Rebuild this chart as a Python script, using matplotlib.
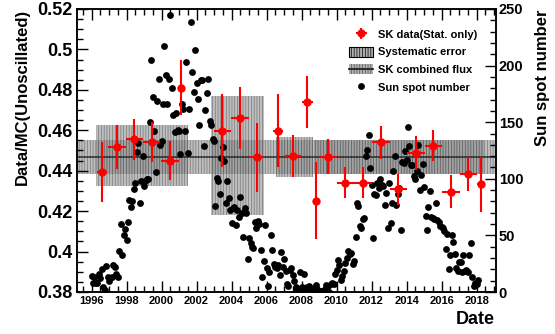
import numpy as np
import matplotlib
matplotlib.use("Agg")
import matplotlib.pyplot as plt
import matplotlib.patches as mpatches
from matplotlib.lines import Line2D
from matplotlib.ticker import MultipleLocator, FuncFormatter

plt.rcParams['font.family'] = 'Liberation Sans'
plt.rcParams['font.weight'] = 'bold'
plt.rcParams['hatch.linewidth'] = 0.5

# SK data / MC (stat. errors only)
sk_year = [1996.6, 1997.45, 1998.45, 1999.44, 2000.49, 2001.12, 2003.47, 2004.49, 2005.43,
           2006.66, 2007.5, 2008.32, 2008.83, 2009.5, 2010.51, 2011.5, 2012.53, 2013.53,
           2014.54, 2015.53, 2016.54, 2017.53, 2018.24]
sk_xerr = [0.3, 0.5, 0.5, 0.5, 0.5, 0.2, 0.5, 0.5, 0.37,
           0.3, 0.45, 0.32, 0.15, 0.5, 0.5, 0.5, 0.5, 0.5,
           0.5, 0.5, 0.5, 0.5, 0.2]
sk_val = [0.4395, 0.4517, 0.4555, 0.4543, 0.4449, 0.4811, 0.4598, 0.4661, 0.4466,
          0.4598, 0.4474, 0.4740, 0.4251, 0.4469, 0.4341, 0.4341, 0.4540, 0.4308,
          0.4489, 0.4524, 0.4296, 0.4384, 0.4333]
sk_err = [0.0148, 0.0110, 0.0102, 0.0100, 0.0097, 0.0136, 0.0180, 0.0153, 0.0169,
          0.0180, 0.0103, 0.0130, 0.0190, 0.0086, 0.0078, 0.0078, 0.0083, 0.0077,
          0.0083, 0.0078, 0.0082, 0.0082, 0.0136]

# systematic error boxes for each SK phase
phase_start = [1996.24, 2002.83, 2006.53, 2008.70]
phase_end = [2001.53, 2005.86, 2008.67, 2018.40]
phase_val = [0.4476, 0.4475, 0.4469, 0.4469]
phase_syst = [0.0150, 0.0295, 0.0099, 0.0083]

# combined flux band
comb_val = 0.4468
comb_err = 0.0086

# monthly sun spot number, Jan 1996 - Feb 2018
ssn_1996 = [14, 8, 13, 8, 8, 16, 12, 20, 4, 2, 23, 13]
ssn_1997 = [10, 12, 13, 24, 22, 16, 13, 36, 60, 33, 50, 56]
ssn_1998 = [46, 62, 81, 75, 80, 91, 96, 124, 132, 79, 98, 120]
ssn_1999 = [94, 98, 100, 100, 150, 205, 172, 142, 106, 169, 188, 130]
ssn_2000 = [133.1, 165.7, 217.7, 191.5, 165.9, 188.0, 244.3, 180.5, 156.0, 141.6, 158.1, 143.3]
ssn_2001 = [142.6, 121.5, 165.8, 161.7, 142.1, 202.9, 123.0, 161.5, 238.2, 194.1, 176.6, 213.4]
ssn_2002 = [184.6, 170.2, 147.1, 186.9, 187.5, 128.8, 161.0, 175.6, 187.9, 151.2, 147.2, 135.3]
ssn_2003 = [133.5, 75.7, 100.7, 97.9, 86.8, 118.7, 128.3, 115.4, 78.5, 97.8, 82.9, 72.2]
ssn_2004 = [60.6, 74.6, 74.8, 59.2, 72.8, 66.5, 83.8, 69.7, 48.8, 74.2, 70.1, 28.9]
ssn_2005 = [48.1, 43.5, 39.6, 38.7, 61.9, 56.8, 62.4, 60.5, 37.2, 13.2, 27.5, 59.3]
ssn_2006 = [20.9, 5.7, 17.3, 50.3, 37.2, 24.5, 22.2, 20.8, 23.7, 14.9, 35.7, 22.3]
ssn_2007 = [29.3, 18.4, 7.2, 5.4, 19.5, 21.3, 15.1, 9.8, 4.0, 1.5, 2.8, 17.3]
ssn_2008 = [4.1, 2.9, 15.5, 3.6, 4.6, 5.2, 0.6, 0.3, 1.2, 4.2, 6.6, 1.0]
ssn_2009 = [1.3, 1.2, 0.6, 1.2, 2.9, 6.3, 5.5, 0.0, 7.1, 7.7, 6.9, 16.3]
ssn_2010 = [19.5, 28.5, 24.0, 10.4, 13.9, 18.8, 25.2, 29.6, 36.4, 33.6, 34.4, 24.5]
ssn_2011 = [27.3, 48.3, 78.6, 76.1, 58.2, 56.1, 64.5, 65.8, 120.1, 125.7, 139.1, 109.3]
ssn_2012 = [94.4, 47.8, 86.6, 85.9, 96.5, 92.0, 100.1, 94.8, 93.7, 76.5, 87.6, 56.8]
ssn_2013 = [96.1, 60.9, 78.3, 107.3, 120.2, 76.7, 86.2, 91.8, 54.5, 114.4, 113.9, 124.2]
ssn_2014 = [117.0, 146.1, 128.7, 112.5, 112.5, 102.9, 100.2, 106.9, 130.0, 90.0, 103.6, 112.9]
ssn_2015 = [93.0, 66.7, 54.5, 75.3, 88.8, 66.5, 65.8, 64.4, 78.6, 63.6, 62.2, 58.0]
ssn_2016 = [57.0, 56.4, 54.1, 37.9, 51.5, 20.5, 32.4, 50.2, 44.6, 33.4, 21.4, 18.5]
ssn_2017 = [26.1, 26.4, 17.7, 32.3, 18.9, 19.2, 17.8, 32.6, 43.7, 13.2, 5.7, 8.2]
ssn_2018 = [6.8, 10.7]

sunspots = (ssn_1996 + ssn_1997 + ssn_1998 + ssn_1999 + ssn_2000 + ssn_2001 + ssn_2002 +
            ssn_2003 + ssn_2004 + ssn_2005 + ssn_2006 + ssn_2007 + ssn_2008 + ssn_2009 +
            ssn_2010 + ssn_2011 + ssn_2012 + ssn_2013 + ssn_2014 + ssn_2015 + ssn_2016 +
            ssn_2017 + ssn_2018)
ssn_time = 1996 + np.arange(len(sunspots)) / 12.0

xmin, xmax = 1995.17, 2019.11

fig = plt.figure(figsize=(5.55, 3.34), dpi=100)
ax = fig.add_axes([77 / 555, 1 - 292 / 334, 419 / 555, 283 / 334])
ax2 = ax.twinx()
ax.set_xlim(xmin, xmax)
ax.set_ylim(0.38, 0.52)
ax2.set_ylim(0, 250)

band_face = '#8a8a8a'
band_hatch = '#404040'

# combined flux band + line
ax.fill_between([xmin, xmax], comb_val - comb_err, comb_val + comb_err,
                facecolor=band_face, edgecolor=band_hatch, hatch='||||||', lw=0,
                alpha=0.55, zorder=1)
ax.axhline(comb_val, color='#222222', lw=1.3, alpha=0.8, zorder=1.5)

# systematic error boxes
widths = [e - s for s, e in zip(phase_start, phase_end)]
bottoms = [v - e for v, e in zip(phase_val, phase_syst)]
heights = [2 * e for e in phase_syst]
ax.bar(phase_start, heights, width=widths, bottom=bottoms, align='edge',
       facecolor=band_face, edgecolor=band_hatch, hatch='||||||', lw=0,
       alpha=0.55, zorder=1.2)

# sun spot number (on right axis scale)
ax.plot(ssn_time, sunspots, 'o', color='black', ms=4.9, mew=0,
        transform=ax2.transData, zorder=3)

# SK data
sk = ax.errorbar(sk_year, sk_val, yerr=sk_err, xerr=sk_xerr, fmt='o', color='red',
                 ms=5, elinewidth=1.5, capsize=0, zorder=4)

# axes cosmetics
for a in (ax, ax2):
    for sp in a.spines.values():
        sp.set_linewidth(1.1)

ax.xaxis.set_major_locator(MultipleLocator(2))
ax.xaxis.set_minor_locator(MultipleLocator(0.5))
ax.xaxis.set_major_formatter(FuncFormatter(lambda v, p: '%d' % round(v)))
ax.yaxis.set_major_locator(MultipleLocator(0.02))
ax.yaxis.set_minor_locator(MultipleLocator(0.005))
ax.yaxis.set_major_formatter(FuncFormatter(lambda v, p: '%g' % round(v, 3)))
ax.tick_params(axis='x', which='both', direction='in', top=True, bottom=True,
               labelsize=8, pad=3, width=1)
ax.tick_params(axis='y', which='both', direction='in', left=True, right=False,
               labelsize=13, pad=3, width=1)
ax.tick_params(which='major', length=8)
ax.tick_params(which='minor', length=4)

ax2.yaxis.set_major_locator(MultipleLocator(50))
ax2.yaxis.set_minor_locator(MultipleLocator(10))
ax2.tick_params(axis='y', which='both', direction='in', labelsize=10.5, pad=2, width=1)
ax2.tick_params(which='major', length=8)
ax2.tick_params(which='minor', length=4)

fig.text(22 / 555, 1 - 9 / 334, 'Data/MC(Unoscillated)', rotation=90, ha='center',
         va='top', fontsize=12, fontweight='bold')
fig.text(542 / 555, 1 - 9 / 334, 'Sun spot number', rotation=90, ha='center',
         va='top', fontsize=12, fontweight='bold')
fig.text(495 / 555, 1 - 320 / 334, 'Date', ha='right', va='center',
         fontsize=13, fontweight='bold')

# legend
h_sys = mpatches.Patch(facecolor='#b0b0b0', edgecolor='black', hatch='||||||', lw=0.8)
h_comb = (mpatches.Patch(facecolor='#b0b0b0', edgecolor='#555555', hatch='||||||', lw=0),
          Line2D([], [], color='#222222', lw=1.3))
h_ss = Line2D([], [], marker='o', ls='none', color='black', ms=4.9, mew=0)
leg = ax.legend([sk, h_sys, h_comb, h_ss],
                ['SK data(Stat. only)', 'Systematic error', 'SK combined flux', 'Sun spot number'],
                loc='upper left', bbox_to_anchor=(349 / 555, 1 - 29 / 334),
                bbox_transform=fig.transFigure, frameon=False, fontsize=8,
                handlelength=2.2, handleheight=1.0, handletextpad=0.45,
                labelspacing=0.62, borderpad=0, borderaxespad=0)
leg.set_zorder(10)

fig.savefig('out.png', dpi=100)
